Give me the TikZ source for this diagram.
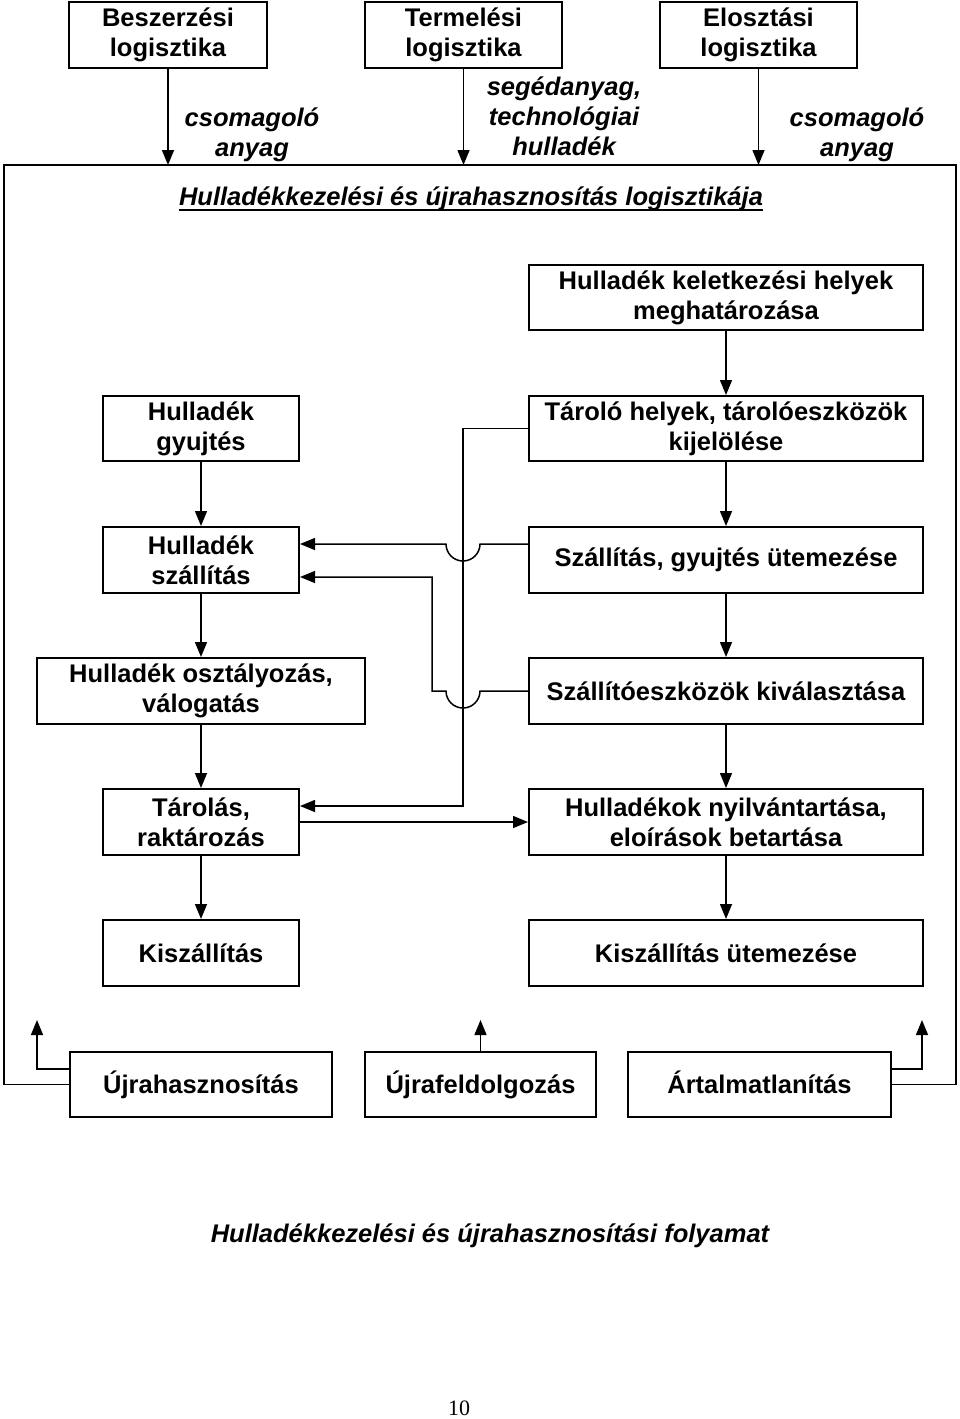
\documentclass[tikz,border=0pt]{standalone}
\usepackage{fontspec}
\setmainfont{Liberation Sans}
\newfontfamily\serifnum{Liberation Serif}
\usetikzlibrary{arrows.meta}
\begin{document}
\begin{tikzpicture}[x=1pt,y=-1pt,
  box/.style={draw, line width=2pt, inner sep=0pt, align=center,
    font=\bfseries\fontsize{25.5}{30}\selectfont},
  lbl/.style={inner sep=0pt, align=center,
    font=\bfseries\itshape\fontsize{25.5}{30}\selectfont},
  conn/.style={line width=1.5pt},
  arr/.style={conn, -{Triangle[length=15pt,width=12pt]}}
]
\useasboundingbox (0,0) rectangle (960,1419);

% top boxes
\node[box, minimum width=198pt, minimum height=66pt] (besz) at (168,35) {Beszerzési\\logisztika};
\node[box, minimum width=197pt, minimum height=66pt] (term) at (463.5,35) {Termelési\\logisztika};
\node[box, minimum width=197pt, minimum height=66pt] (elos) at (758.5,35) {Elosztási\\logisztika};

\node[lbl] (cs1) at (252,135) {csomagoló\\anyag};
\node[lbl] (seg) at (564,116) {segédanyag,\\technológiai\\hulladék};
\node[lbl] (cs2) at (857,135) {csomagoló\\anyag};

% frame
\coordinate (fTL) at (4,165);
\coordinate (fTR) at (956,165);

\node[lbl, anchor=base] (title) at (471,205) {Hulladékkezelési és újrahasznosítás logisztikája};
\draw[line width=1.6pt] ([yshift=-5pt]title.base west) -- ([yshift=-5pt]title.base east);

% right column
\node[box, minimum width=394pt, minimum height=65pt] (kelet) at (726,297.5) {Hulladék keletkezési helyek\\meghatározása};
\node[box, minimum width=394pt, minimum height=65pt] (taro) at (726,428.5) {Tároló helyek, tárolóeszközök\\kijelölése};
\node[box, minimum width=394pt, minimum height=66pt] (szutem) at (726,560) {Szállítás, gyujtés ütemezése};
\node[box, minimum width=394pt, minimum height=66pt] (szeszk) at (726,691) {Szállítóeszközök kiválasztása};
\node[box, minimum width=394pt, minimum height=66pt] (nyilv) at (726,822) {Hulladékok nyilvántartása,\\eloírások betartása};
\node[box, minimum width=394pt, minimum height=66pt] (kiutem) at (726,953) {Kiszállítás ütemezése};

% left column
\node[box, minimum width=196pt, minimum height=65pt] (gyujt) at (201,428.5) {Hulladék\\gyujtés};
\node[box, minimum width=196pt, minimum height=66pt] (szall) at (201,560) {Hulladék\\szállítás};
\node[box, minimum width=328pt, minimum height=66pt] (oszt) at (201,691) {Hulladék osztályozás,\\válogatás};
\node[box, minimum width=196pt, minimum height=66pt] (tarol) at (201,822) {Tárolás,\\raktározás};
\node[box, minimum width=196pt, minimum height=66pt] (kiszall) at (201,953) {Kiszállítás};

% bottom row
\node[box, minimum width=262pt, minimum height=65pt] (ujra) at (201,1084.5) {Újrahasznosítás};
\node[box, minimum width=231pt, minimum height=65pt] (ujraf) at (480.5,1084.5) {Újrafeldolgozás};
\node[box, minimum width=263pt, minimum height=65pt] (artal) at (759.5,1084.5) {Ártalmatlanítás\vphantom{j}};

\node[font=\serifnum\fontsize{22}{26}\selectfont, anchor=base, inner sep=0pt] (pg) at (459,1415) {10};

\node[lbl, anchor=base] (capt) at (490,1242) {Hulladékkezelési és újrahasznosítási folyamat};

% frame path
\draw[conn] (ujra.west) -| (fTL) -- (fTR) |- (artal.east);

% top arrows
\draw[arr] (besz.south) -- (besz.south |- fTL);
\draw[arr] (term.south) -- (term.south |- fTL);
\draw[arr] (elos.south) -- (elos.south |- fTL);

% vertical arrows
\draw[arr] (kelet) -- (taro);
\draw[arr] (taro) -- (szutem);
\draw[arr] (szutem) -- (szeszk);
\draw[arr] (szeszk) -- (nyilv);
\draw[arr] (nyilv) -- (kiutem);
\draw[arr] (gyujt) -- (szall);
\draw[arr] (szall) -- (oszt);
\draw[arr] (oszt) -- (tarol);
\draw[arr] (tarol) -- (kiszall);

% middle connectors
\coordinate (v1) at (463,428.5);
\coordinate (v2) at (463,806);
\draw[arr] (taro.west) -- (v1) -- (v2) -- ([yshift=16pt]tarol.east);
\draw[arr] ([yshift=16pt]szutem.west) -- (480,544) arc[start angle=0, end angle=180, radius=17] -- ([yshift=16pt]szall.east);
\coordinate (b1) at (432,691);
\coordinate (b2) at (432,577);
\draw[arr] (szeszk.west) -- (480,691) arc[start angle=0, end angle=180, radius=17] -- (b1) -- (b2) -- ([yshift=-17pt]szall.east);
\draw[arr] (tarol.east) -- (tarol.east -| nyilv.west);

% bottom arrows
\coordinate (uL) at (37,1020);
\coordinate (aR) at (922,1020);
\draw[arr] ([yshift=15.5pt]ujra.west) -| (uL);
\draw[arr] (ujraf.north) -- (ujraf.north |- uL);
\draw[arr] ([yshift=15.5pt]artal.east) -| (aR);
\end{tikzpicture}
\end{document}
